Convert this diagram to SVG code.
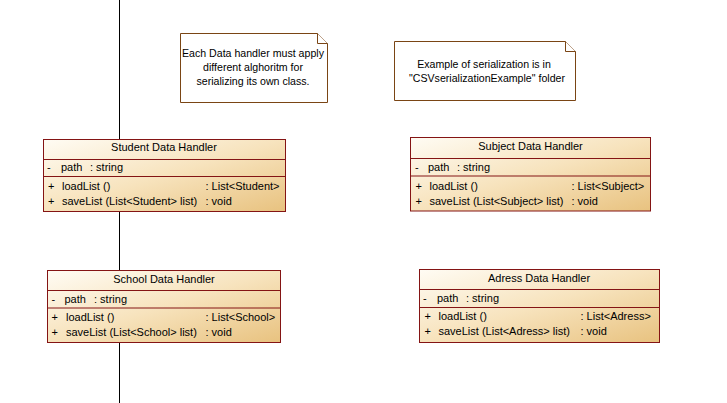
<svg xmlns="http://www.w3.org/2000/svg" width="727" height="403" viewBox="0 0 727 403">
<style>
text{font-family:"Liberation Sans",Arial,sans-serif;font-size:11px;fill:#000}
.box{fill:url(#g);stroke:#841414;stroke-width:1}
.sep{stroke:#841414;stroke-width:1}
.note{fill:#fff;stroke:#7a4514;stroke-width:1}
.nt{font-size:10.6px;text-anchor:middle}
.mid{text-anchor:middle}
</style>
<defs>
<linearGradient id="g" x1="0" y1="0" x2="1" y2="1">
<stop offset="0" stop-color="#fffcf4"/>
<stop offset="0.5" stop-color="#f7e3bd"/>
<stop offset="1" stop-color="#e8c27f"/>
</linearGradient>
</defs>
<g id="connectors">
<line x1="119.5" y1="0" x2="119.5" y2="403" stroke="#000" stroke-width="1"/>
</g>
<g id="note1">
<path class="note" d="M180.5,33.5 H317.5 L327.5,43.5 V102.5 H180.5 Z"/>
<path class="note" d="M317.5,33.5 V43.5 H327.5" fill="none"/>
<text class="nt" x="253" y="57">Each Data handler must apply</text>
<text class="nt" x="253" y="71">different alghoritm for</text>
<text class="nt" x="253" y="85">serializing its own class.</text>
</g>
<g id="note2">
<path class="note" d="M394.5,41.5 H565.5 L575.5,51.5 V100.5 H394.5 Z"/>
<path class="note" d="M565.5,41.5 V51.5 H575.5" fill="none"/>
<text class="nt" x="484" y="68">Example of serialization is in</text>
<text class="nt" x="487" y="82">"CSVserializationExample" folder</text>
</g>
<g id="student">
<rect class="box" x="43.5" y="139.5" width="242" height="72"/>
<line class="sep" x1="43.5" y1="159.5" x2="285.5" y2="159.5"/>
<line class="sep" x1="43.5" y1="176.5" x2="285.5" y2="176.5"/>
<text class="mid" x="164" y="151">Student Data Handler</text>
<text x="47" y="171">-</text><text x="61" y="171">path</text><text x="90" y="171">: string</text>
<text x="48" y="189.5">+</text><text x="62" y="189.5">loadList ()</text><text x="205.5" y="189.5">: List&lt;Student&gt;</text>
<text x="48" y="204.5">+</text><text x="62" y="204.5">saveList (List&lt;Student&gt; list)</text><text x="205.5" y="204.5">: void</text>
</g>
<g id="subject">
<rect class="box" x="410.5" y="137.5" width="240" height="73.5"/>
<line class="sep" x1="410.5" y1="158.5" x2="650.5" y2="158.5"/>
<line class="sep" x1="410.5" y1="176" x2="650.5" y2="176"/>
<text class="mid" x="530.5" y="150">Subject Data Handler</text>
<text x="415" y="171">-</text><text x="428" y="171">path</text><text x="457" y="171">: string</text>
<text x="415.5" y="189.5">+</text><text x="429.5" y="189.5">loadList ()</text><text x="571.5" y="189.5">: List&lt;Subject&gt;</text>
<text x="415.5" y="204.5">+</text><text x="429.5" y="204.5">saveList (List&lt;Subject&gt; list)</text><text x="571.5" y="204.5">: void</text>
</g>
<g id="school">
<rect class="box" x="47.5" y="270.5" width="233" height="72"/>
<line class="sep" x1="47.5" y1="290.5" x2="280.5" y2="290.5"/>
<line class="sep" x1="47.5" y1="308" x2="280.5" y2="308"/>
<text class="mid" x="164" y="283">School Data Handler</text>
<text x="51.5" y="302.5">-</text><text x="64.5" y="302.5">path</text><text x="94" y="302.5">: string</text>
<text x="51.5" y="320.5">+</text><text x="66" y="320.5">loadList ()</text><text x="205.5" y="320.5">: List&lt;School&gt;</text>
<text x="51.5" y="335.5">+</text><text x="66" y="335.5">saveList (List&lt;School&gt; list)</text><text x="205.5" y="335.5">: void</text>
</g>
<g id="adress">
<rect class="box" x="419.5" y="269.5" width="240" height="73"/>
<line class="sep" x1="419.5" y1="289.5" x2="659.5" y2="289.5"/>
<line class="sep" x1="419.5" y1="307.5" x2="659.5" y2="307.5"/>
<text class="mid" x="539" y="282">Adress Data Handler</text>
<text x="423" y="302">-</text><text x="437" y="302">path</text><text x="466" y="302">: string</text>
<text x="424.5" y="320">+</text><text x="438.5" y="320">loadList ()</text><text x="580.5" y="320">: List&lt;Adress&gt;</text>
<text x="424.5" y="335">+</text><text x="438.5" y="335">saveList (List&lt;Adress&gt; list)</text><text x="580.5" y="335">: void</text>
</g>
</svg>
